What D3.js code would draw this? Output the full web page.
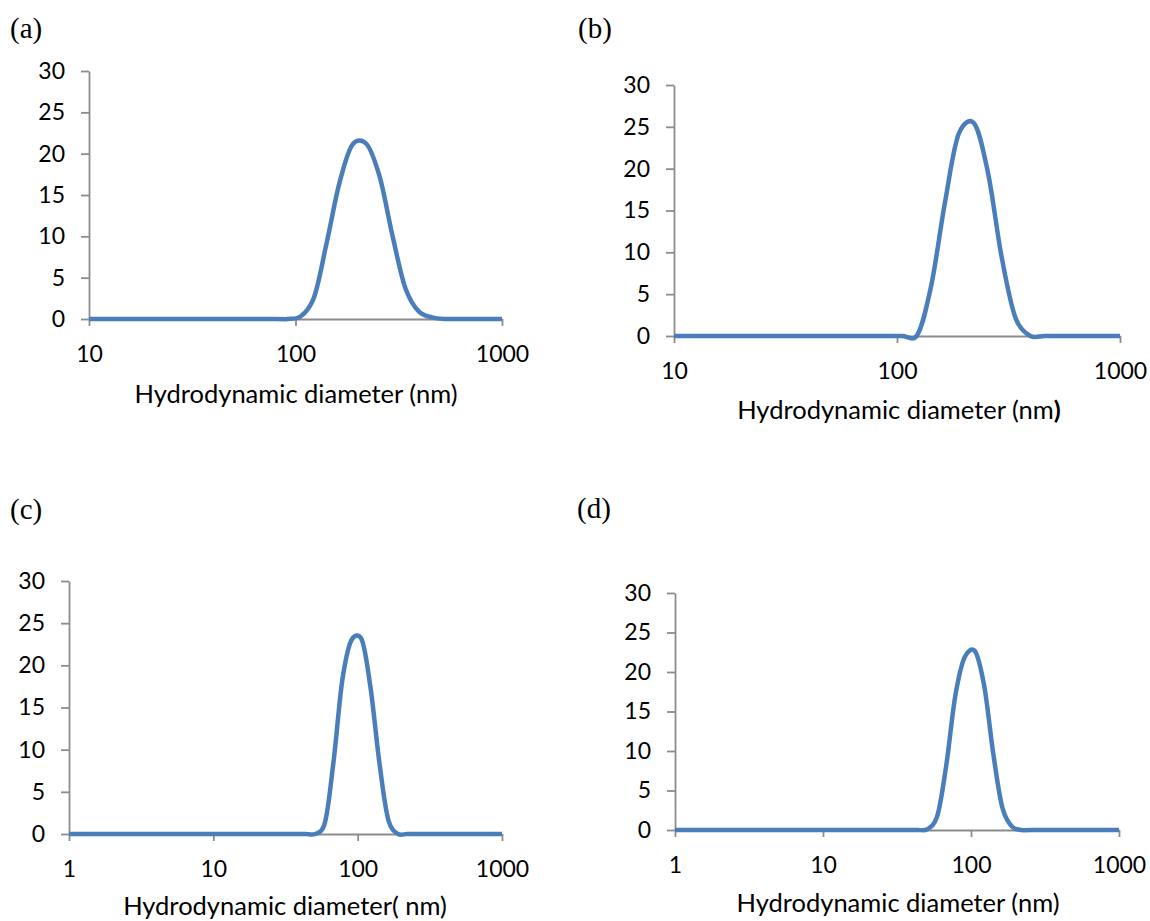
<!DOCTYPE html>
<html>
<head>
<meta charset="utf-8">
<script src="https://cdn.jsdelivr.net/npm/d3@7"></script>
<style>
  body { margin: 0; background: #fff; }
  svg { display: block; }
</style>
</head>
<body>
<svg id="chart" width="1150" height="921"></svg>
<script>

// intensity (%) vs hydrodynamic diameter (nm)
const sizesA  = [10, 78.82, 91.28, 105.7, 122.4, 141.8, 164.2, 190.1, 220.2, 255.0, 295.3, 342.0, 396.1, 458.7, 531.2, 615.1, 1000]
const valuesA = [0,  0,     0,     0.3,   2.5,   9.3,   16.7,  21.2,  21.2,  17.3,  10.0,  3.6,   0.9,   0.2,   0,     0,     0]

const sizesB  = [10, 78.82, 91.28, 105.7, 122.4, 141.8, 164.2, 190.1, 220.2, 255.0, 295.3, 342.0, 396.1, 458.7, 531.2, 1000]
const valuesB = [0,  0,     0,     0,     0,     5.8,   16.0,  24.3,  25.5,  19.7,  9.3,   2.0,   0,     0,     0,     0]

const sizesC  = [1, 37.84, 43.82, 50.75, 58.77, 68.06, 78.82, 91.28, 105.7, 122.4, 141.8, 164.2, 190.1, 220.2, 255.0, 1000]
const valuesC = [0, 0,     0,     0,     1.1,   8.6,   18.6,  23.1,  23.2,  17.5,  8.3,   1.5,   0,     0,     0,     0]

const sizesD  = [1, 37.84, 43.82, 50.75, 58.77, 68.06, 78.82, 91.28, 105.7, 122.4, 141.8, 164.2, 190.1, 220.2, 255.0, 1000]
const valuesD = [0, 0,     0,     0.1,   1.6,   8.2,   17.3,  22.0,  22.7,  18.4,  9.5,   2.6,   0.4,   0,     0,     0]

const yTicks = [0, 5, 10, 15, 20, 25, 30]
const xTicksAB = [10, 100, 1000]
const xTicksCD = [1, 10, 100, 1000]

const panels = [
    { label: '(a)', sizes: sizesA, values: valuesA, xTicks: xTicksAB,
      left: 89, right: 502, top: 71, bottom: 319, labelX: 10, labelY: 38,
      title: 'Hydrodynamic diameter (nm)', titleX: 296, titleY: 403 },
    { label: '(b)', sizes: sizesB, values: valuesB, xTicks: xTicksAB,
      left: 674, right: 1120, top: 85, bottom: 336, labelX: 578, labelY: 38,
      title: 'Hydrodynamic diameter (nm', closeBold: true, titleX: 899, titleY: 419 },
    { label: '(c)', sizes: sizesC, values: valuesC, xTicks: xTicksCD,
      left: 69, right: 502, top: 581, bottom: 834, labelX: 10, labelY: 519,
      title: 'Hydrodynamic diameter( nm)', titleX: 285, titleY: 915 },
    { label: '(d)', sizes: sizesD, values: valuesD, xTicks: xTicksCD,
      left: 675, right: 1119, top: 593, bottom: 830, labelX: 577, labelY: 518,
      title: 'Hydrodynamic diameter (nm)', titleX: 898, titleY: 912 }
]

const axisColor = '#8c8c8c'
const lineColor = '#4a7ebb'
const sansFont = 'Lato, "Open Sans", sans-serif'

const svg = d3.select('#chart')

panels.forEach(p => {
    const x = d3.scaleLog().domain([p.xTicks[0], 1000]).range([p.left, p.right])
    const y = d3.scaleLinear().domain([0, 30]).range([p.bottom, p.top])

    const g = svg.append('g')

    const yAxis = g.append('g')
        .attr('transform', `translate(${p.left},0)`)
        .call(d3.axisLeft(y).tickValues(yTicks).tickSize(8).tickSizeOuter(0).tickPadding(16).tickFormat(d3.format('d')))

    const xAxis = g.append('g')
        .attr('transform', `translate(0,${p.bottom})`)
        .call(d3.axisBottom(x).tickValues(p.xTicks).tickSize(7).tickSizeOuter(0).tickFormat(d3.format('d')))

    xAxis.selectAll('text').attr('y', 43).attr('dy', 0)

    ;[yAxis, xAxis].forEach(a => {
        a.attr('font-family', sansFont).attr('font-size', 23)
        a.selectAll('.domain, .tick line').attr('stroke', axisColor).attr('stroke-width', 1.8)
        a.selectAll('text').attr('fill', '#000')
    })

    // excel-like smoothed line
    const line = d3.line()
        .x(d => x(d[0]))
        .y(d => y(d[1]))
        .curve(d3.curveCatmullRom.alpha(0.2))

    g.append('path')
        .datum(d3.zip(p.sizes, p.values))
        .attr('d', line)
        .attr('fill', 'none')
        .attr('stroke', lineColor)
        .attr('stroke-width', 4.5)
        .attr('stroke-linejoin', 'round')

    g.append('text')
        .attr('x', p.labelX)
        .attr('y', p.labelY)
        .attr('font-family', '"Liberation Serif", serif')
        .attr('font-size', 29)
        .text(p.label)

    const t = g.append('text')
        .attr('x', p.titleX)
        .attr('y', p.titleY)
        .attr('text-anchor', 'middle')
        .attr('font-family', sansFont)
        .attr('font-size', 25.5)
        .text(p.title)

    if (p.closeBold)
        t.append('tspan').attr('font-weight', 'bold').text(')')
})

</script>
</body>
</html>
